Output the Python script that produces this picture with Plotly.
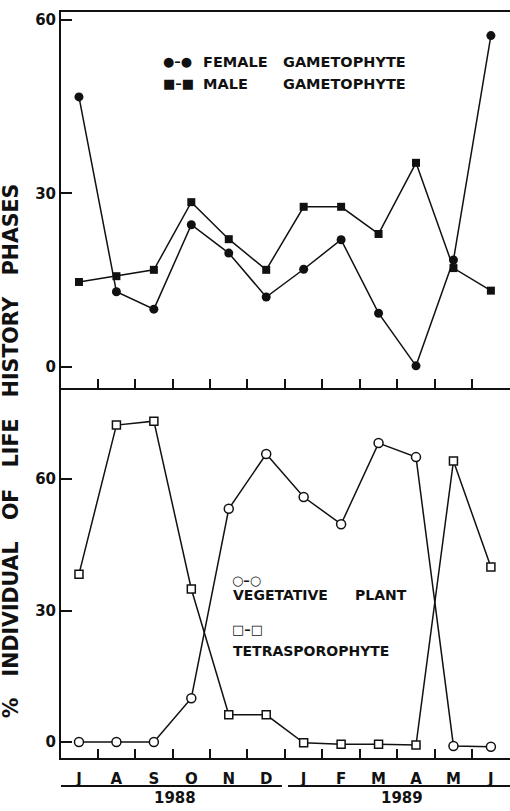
import plotly.graph_objects as go
from plotly.subplots import make_subplots

# ---- data ----
months = ["J", "A", "S", "O", "N", "D", "J", "F", "M", "A", "M", "J"]
month_pos = list(range(len(months)))
female = [46.7, 13.0, 10.0, 24.6, 19.7, 12.1, 16.9, 22.0, 9.3, 0.2, 18.5, 57.3]
male = [14.7, 15.7, 16.8, 28.5, 22.1, 16.8, 27.7, 27.7, 23.0, 35.3, 17.1, 13.2]
vegetative = [0.0, 0.0, 0.0, 10.0, 53.2, 65.7, 55.9, 49.7, 68.2, 65.0, -0.9, -1.1]
tetrasporophyte = [38.3, 72.3, 73.2, 34.9, 6.2, 6.2, -0.2, -0.5, -0.5, -0.7, 64.1, 39.9]
y_ticks = [0, 30, 60]
years = ["1988", "1989"]

FONT = "DejaVu Sans"
BLACK = "#111111"

fig = make_subplots(rows=2, cols=1, shared_xaxes=True, vertical_spacing=0)

line = dict(color=BLACK, width=1.5)
fig.add_trace(go.Scatter(x=month_pos, y=male, mode="lines+markers", line=line,
                         marker=dict(symbol="square", size=8, color=BLACK),
                         name="MALE GAMETOPHYTE", showlegend=False), row=1, col=1)
fig.add_trace(go.Scatter(x=month_pos, y=female, mode="lines+markers", line=line,
                         marker=dict(symbol="circle", size=9, color=BLACK),
                         name="FEMALE GAMETOPHYTE", showlegend=False), row=1, col=1)
fig.add_trace(go.Scatter(x=month_pos, y=vegetative, mode="lines+markers", line=line,
                         marker=dict(symbol="circle", size=9, color="white",
                                     line=dict(color=BLACK, width=1.5)),
                         name="VEGETATIVE PLANT", showlegend=False), row=2, col=1)
fig.add_trace(go.Scatter(x=month_pos, y=tetrasporophyte, mode="lines+markers", line=line,
                         marker=dict(symbol="square", size=8, color="white",
                                     line=dict(color=BLACK, width=1.5)),
                         name="TETRASPOROPHYTE", showlegend=False), row=2, col=1)

half_ticks = [i + 0.5 for i in range(len(months) - 1)]
x_range = [-0.48, 11.51]
split = 0.496

common_x = dict(range=x_range, showgrid=False, zeroline=False, showline=True,
                linecolor=BLACK, linewidth=2,
                minor=dict(tickmode="array", tickvals=half_ticks, ticks="inside",
                           ticklen=9, tickwidth=1.5, tickcolor=BLACK, showgrid=False))
fig.update_layout(
    xaxis=dict(**common_x, mirror=True, tickvals=month_pos, ticktext=[""] * 12,
               ticks="", showticklabels=False),
    xaxis2=dict(**common_x, tickvals=month_pos, ticktext=months, ticks="",
                tickfont=dict(family=FONT, size=15, color=BLACK, weight="bold"),
                ticklabelstandoff=6),
)
common_y = dict(showgrid=False, zeroline=False, showline=True, linecolor=BLACK,
                linewidth=2, tickvals=y_ticks, ticks="inside", ticklen=11,
                tickwidth=1.5, tickcolor=BLACK,
                tickfont=dict(family=FONT, size=15, color=BLACK, weight="bold"))
fig.update_layout(
    yaxis=dict(**common_y, range=[-3.63, 61.38], domain=[split, 1]),
    yaxis2=dict(**common_y, range=[-3.65, 80.77], domain=[0, split]),
)

# year underlines
fig.add_shape(type="line", xref="paper", yref="paper", x0=0, x1=0.492,
              y0=-0.0375, y1=-0.0375, line=dict(color=BLACK, width=2))
fig.add_shape(type="line", xref="paper", yref="paper", x0=0.5056, x1=1.0,
              y0=-0.0375, y1=-0.0375, line=dict(color=BLACK, width=2))

ann = []
def txt(text, x, y, size=15, xanchor="left", angle=0, weight="bold"):
    ann.append(dict(text=text, x=x, y=y, xref="paper", yref="paper", showarrow=False,
                    xanchor=xanchor, yanchor="middle", textangle=angle,
                    font=dict(family=FONT, size=size, color=BLACK, weight=weight)))

txt(years[0], 0.254, -0.054, size=15, xanchor="center")
txt(years[1], 0.759, -0.054, size=15, xanchor="center")
sp = "\u00a0" * 3
txt("%" + sp + "INDIVIDUAL" + sp + "OF" + sp + "LIFE" + sp + "HISTORY" + sp + "PHASES",
    -0.112, 0.412, size=20.5, xanchor="center", angle=-90)

# legends (top)
txt("●–●", 0.222, 0.933, size=13)
txt("FEMALE", 0.312, 0.933, size=14.5)
txt("GAMETOPHYTE", 0.490, 0.933, size=14.5)
txt("■–■", 0.222, 0.9035, size=13)
txt("MALE", 0.312, 0.9035, size=14.5)
txt("GAMETOPHYTE", 0.490, 0.9035, size=14.5)
# legends (bottom)
txt("○–○", 0.377, 0.238, size=13)
txt("VEGETATIVE", 0.379, 0.2185, size=14)
txt("PLANT", 0.651, 0.2185, size=14)
txt("□–□", 0.377, 0.1716, size=13)
txt("TETRASPOROPHYTE", 0.379, 0.1434, size=14)

fig.update_layout(
    annotations=ann,
    width=510, height=811,
    margin=dict(l=61, r=0, t=12, b=53),
    paper_bgcolor="white", plot_bgcolor="white",
    showlegend=False,
)

fig.write_html("out.html", config={"displayModeBar": False},
               post_script="document.body.style.margin='0';")
